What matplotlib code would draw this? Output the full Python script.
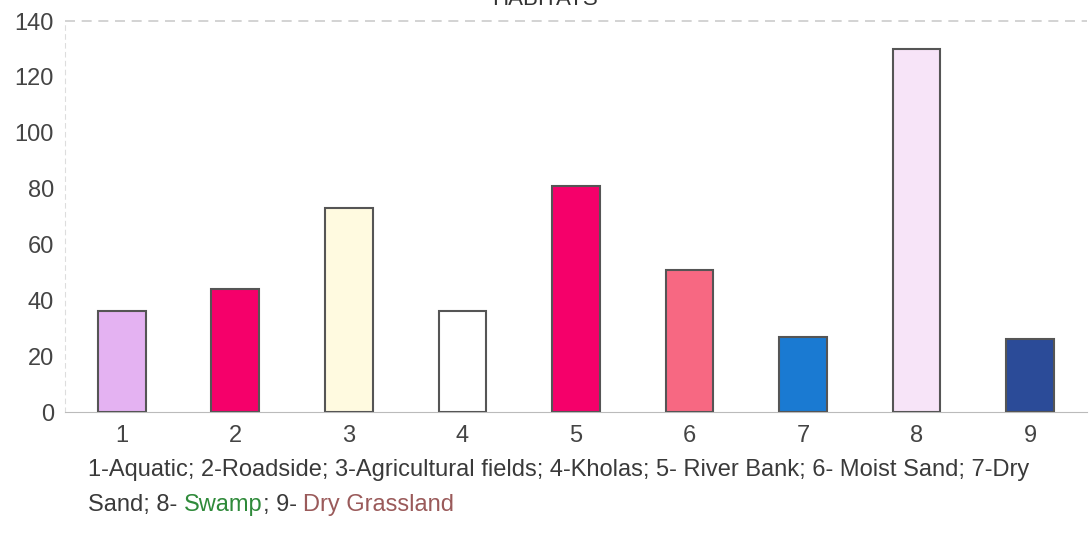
import matplotlib.pyplot as plt

categories = ['1', '2', '3', '4', '5', '6', '7', '8', '9']
values = [36, 44, 73, 36, 81, 51, 27, 130, 26]
bar_colors = ['#e4b2f2', '#f5006a', '#fffae0', '#ffffff', '#f5006a',
              '#f76882', '#1a7ad2', '#f7e4f8', '#2b4b98']
y_ticks = [0, 20, 40, 60, 80, 100, 120, 140]

line1 = "1-Aquatic; 2-Roadside; 3-Agricultural fields; 4-Kholas; 5- River Bank; 6- Moist Sand; 7-Dry"
line2_parts = [("Sand; 8- ", '#3a3a3a'), ("Swamp", '#2f8a3a'), ("; 9- ", '#3a3a3a'),
               ("Dry Grassland", '#9a5a5a')]

plt.rcParams['font.family'] = ['Liberation Sans', 'DejaVu Sans']
txt = '#444444'

fig = plt.figure(figsize=(10.89, 5.35), dpi=100)
ax = fig.add_axes([0.0597, 0.2299, 0.9383, 0.7308])

x = list(range(1, len(categories) + 1))
ax.bar(x, values, width=0.42, color=bar_colors, edgecolor='#555555', linewidth=1.5, zorder=3)

ax.set_xlim(0.5, 9.5)
ax.set_ylim(0, 140)
ax.set_yticks(y_ticks)
ax.set_xticks(x)
ax.set_xticklabels(categories)
ax.tick_params(axis='both', length=0, labelsize=17, labelcolor=txt)
ax.tick_params(axis='x', pad=9)
ax.tick_params(axis='y', pad=8)

for side in ['top', 'right']:
    ax.spines[side].set_visible(False)
ax.spines['bottom'].set_color('#bbbbbb')
ax.spines['left'].set_color('#dddddd')
ax.spines['left'].set_linestyle((0, (4, 4)))
ax.axhline(140, color='#cccccc', linestyle=(0, (6, 4)), linewidth=1.2, clip_on=False)

fig.text(0.5, 0.991, 'HABITATS', ha='center', va='baseline', fontsize=16, color='#333333')

fig.text(0.081, 0.121, line1, ha='left', va='center', fontsize=17, color='#3a3a3a')

# second caption line, drawn piece by piece so each piece keeps its own colour
fig.canvas.draw()
renderer = fig.canvas.get_renderer()
xpos = 0.081
for part, col in line2_parts:
    t = fig.text(xpos, 0.056, part, ha='left', va='center', fontsize=17, color=col)
    bb = t.get_window_extent(renderer)
    xpos += bb.width / fig.bbox.width

fig.savefig('out.png', dpi=100)
